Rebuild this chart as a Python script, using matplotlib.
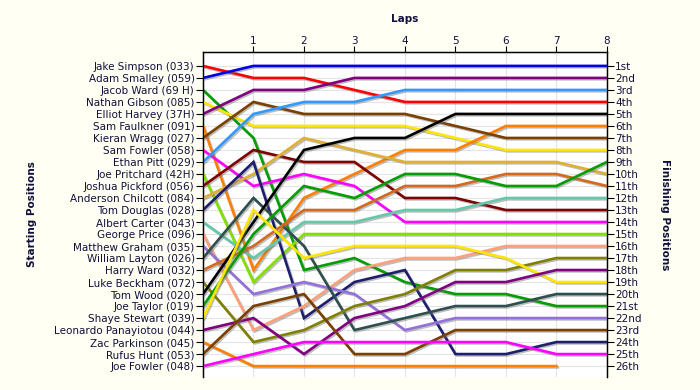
#!/usr/bin/env python3
# -*- coding: utf-8 -*-
"""
Lap chart - starting vs finishing positions per lap
"""

import numpy as np
import matplotlib
matplotlib.use('Agg')
import matplotlib.pyplot as plt
import matplotlib.patheffects as pe

# 起跑順序 (starting grid)
drivers = [
    'Jake Simpson (033)', 'Adam Smalley (059)', 'Jacob Ward (69 H)', 'Nathan Gibson (085)',
    'Elliot Harvey (37H)', 'Sam Faulkner (091)', 'Kieran Wragg (027)', 'Sam Fowler (058)',
    'Ethan Pitt (029)', 'Joe Pritchard (42H)', 'Joshua Pickford (056)', 'Anderson Chilcott (084)',
    'Tom Douglas (028)', 'Albert Carter (043)', 'George Price (096)', 'Matthew Graham (035)',
    'William Layton (026)', 'Harry Ward (032)', 'Luke Beckham (072)', 'Tom Wood (020)',
    'Joe Taylor (019)', 'Shaye Stewart (039)', 'Leonardo Panayiotou (044)', 'Zac Parkinson (045)',
    'Rufus Hunt (053)', 'Joe Fowler (048)',
]

colors = [
    '#ff0000', '#0000e6', '#009e00', '#ffe600', '#800080', '#ff8000', '#7a4000', '#ff00ff',
    '#3399ff', '#80e000', '#800000', '#e0b030', '#1e1e6e', '#66c8aa', '#ffa07a', '#9370db',
    '#2f4f4f', '#d2691e', '#808000', '#000000', '#009e00', '#ffe600', '#800080', '#ff8000',
    '#7a4000', '#ff00ff',
]

laps = [0, 1, 2, 3, 4, 5, 6, 7, 8]

# 每圈位置 (lap 0 = grid)
positions = [
    [1, 2, 2, 3, 4, 4, 4, 4, 4],
    [2, 1, 1, 1, 1, 1, 1, 1, 1],
    [3, 7, 18, 17, 19, 20, 20, 21, 21],
    [4, 6, 6, 6, 6, 7, 8, 8, 8],
    [5, 3, 3, 2, 2, 2, 2, 2, 2],
    [6, 18, 12, 10, 8, 8, 6, 6, 6],
    [7, 4, 5, 5, 5, 6, 7, 7, 7],
    [8, 11, 10, 11, 14, 14, 14, 14, 14],
    [9, 5, 4, 4, 3, 3, 3, 3, 3],
    [10, 19, 15, 15, 15, 15, 15, 15, 15],
    [11, 8, 9, 9, 12, 12, 13, 13, 13],
    [12, 10, 7, 8, 9, 9, 9, 9, 10],
    [13, 9, 22, 19, 18, 25, 25, 24, 24],
    [14, 17, 14, 14, 13, 13, 12, 12, 12],
    [15, 23, 21, 18, 17, 17, 16, 16, 16],
    [16, 20, 19, 20, 23, 22, 22, 22, 22],
    [17, 12, 16, 23, 22, 21, 21, 20, 20],
    [18, 16, 13, 13, 11, 11, 10, 10, 11],
    [19, 24, 23, 21, 20, 18, 18, 17, 17],
    [20, 14, 8, 7, 7, 5, 5, 5, 5],
    [21, 15, 11, 12, 10, 10, 11, 11, 9],
    [22, 13, 17, 16, 16, 16, 17, 19, 19],
    [23, 22, 25, 22, 21, 19, 19, 18, 18],
    [24, 26, 26, 26, 26, 26, 26, 26, None],
    [25, 21, 20, 25, 25, 23, 23, 23, 23],
    [26, 25, 24, 24, 24, 24, 24, 25, 25],
]

finish_labels = ['1st', '2nd', '3rd'] + [f'{i}th' for i in range(4, 21)] + \
    ['21st', '22nd', '23rd', '24th', '25th', '26th']

TEXT = '#10103a'
BG = '#fffff4'


def draw_lap_chart(save_path='out.png'):
    plt.rcParams['font.family'] = ['DejaVu Sans']
    fig = plt.figure(figsize=(7, 3.9), dpi=100, facecolor=BG)
    ax = fig.add_axes([0.29, 0.033, 0.577, 0.834])
    ax.set_facecolor('white')

    n = len(drivers)
    shadow = [pe.SimpleLineShadow(offset=(1, -1), shadow_color='#707070', alpha=0.45), pe.Normal()]
    for i in range(n):
        y = np.array([np.nan if v is None else v for v in positions[i]], dtype=float)
        ax.plot(laps, y, color=colors[i], linewidth=1.9, solid_joinstyle='miter',
                path_effects=shadow, zorder=3)

    ax.set_xlim(0, 8)
    ax.set_ylim(26.92, -0.17)

    # 上方圈數軸
    ax.xaxis.tick_top()
    ax.set_xticks(laps[1:])
    ax.set_xticklabels([str(l) for l in laps[1:]])
    ax.tick_params(axis='x', colors=TEXT, labelsize=7.5, length=4, pad=0)
    ax.set_xlabel('Laps', fontsize=7.5, fontweight='bold', color=TEXT, labelpad=10)
    ax.xaxis.set_label_position('top')

    ax.set_yticks(range(1, n + 1))
    ax.set_yticklabels(drivers)
    ax.tick_params(axis='y', colors=TEXT, labelsize=7.5, length=5, pad=1)
    ax.set_ylabel('Starting Positions', fontsize=7.5, fontweight='bold', color=TEXT, labelpad=0)
    ax.yaxis.set_label_coords(-0.41, 0.5)

    ax.grid(True, color='#e4e4e4', linewidth=0.8, zorder=0)
    ax.set_axisbelow(True)
    ax.spines['bottom'].set_visible(False)
    for s in ['left', 'right', 'top']:
        ax.spines[s].set_color('black')
        ax.spines[s].set_linewidth(1.0)
    ax.tick_params(axis='both', which='both', color='black')

    # 右側完賽名次
    ax2 = ax.twinx()
    ax2.set_ylim(ax.get_ylim())
    ax2.set_yticks(range(1, n + 1))
    ax2.set_yticklabels(finish_labels)
    ax2.tick_params(axis='y', colors=TEXT, labelsize=7.5, length=5, pad=1)
    ax2.tick_params(axis='y', color='black')
    ax2.spines['bottom'].set_visible(False)
    ax2.set_ylabel('Finishing Positions', fontsize=7.5, fontweight='bold', color=TEXT,
                   rotation=270, labelpad=0)
    ax2.yaxis.set_label_coords(1.155, 0.5)

    fig.savefig(save_path, dpi=100, facecolor=BG)


def main():
    draw_lap_chart('out.png')


if __name__ == '__main__':
    main()
